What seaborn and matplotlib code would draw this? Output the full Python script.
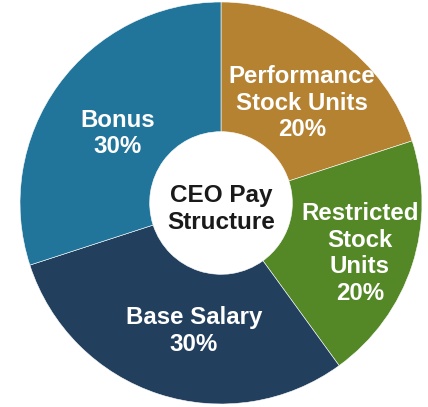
import numpy as np
import matplotlib
matplotlib.use("Agg")
import matplotlib.pyplot as plt
import seaborn as sns

# Pay components, clockwise from 12 o'clock
components = ["Performance\nStock Units", "Restricted\nStock\nUnits", "Base Salary", "Bonus"]
shares = [20, 20, 30, 30]
colors = ["#B58232", "#548826", "#22405E", "#22759A"]
center_text = "CEO Pay\nStructure"

# label placement: distance from centre (fraction of radius) and angle nudge (deg)
label_dist = [0.64, 0.735, 0.65, 0.62]
label_shift = [-3, -2, 6, 2]

sns.set_theme(style="white")
plt.rcParams["font.family"] = ["Liberation Sans", "DejaVu Sans"]

fig = plt.figure(figsize=(4.28, 4.07), dpi=100)
ax = fig.add_axes([0, 0, 1, 1])

inner = 0.355
wedges, _ = ax.pie(
    shares, colors=sns.color_palette(colors), startangle=90, counterclock=False,
    radius=1.0, wedgeprops=dict(width=1 - inner, edgecolor="white", linewidth=0.4),
)

for w, name, val, d, s in zip(wedges, components, shares, label_dist, label_shift):
    mid = np.deg2rad((w.theta1 + w.theta2) / 2 + s)
    ax.text(d * np.cos(mid), d * np.sin(mid), f"{name}\n{val}%",
            ha="center", va="center", color="white", fontsize=17.3,
            fontweight="bold", linespacing=1.2)

ax.text(0, -0.03, center_text, ha="center", va="center", color="#1a1a1a",
        fontsize=17.5, fontweight="bold", linespacing=1.27)

# centre the donut where the reference has it
ax.set_xlim(-221 / 201, 207 / 201)
ax.set_ylim(-204 / 201, 203 / 201)
ax.set_aspect("auto")
ax.axis("off")

fig.savefig("out.png", dpi=100, facecolor="white")
